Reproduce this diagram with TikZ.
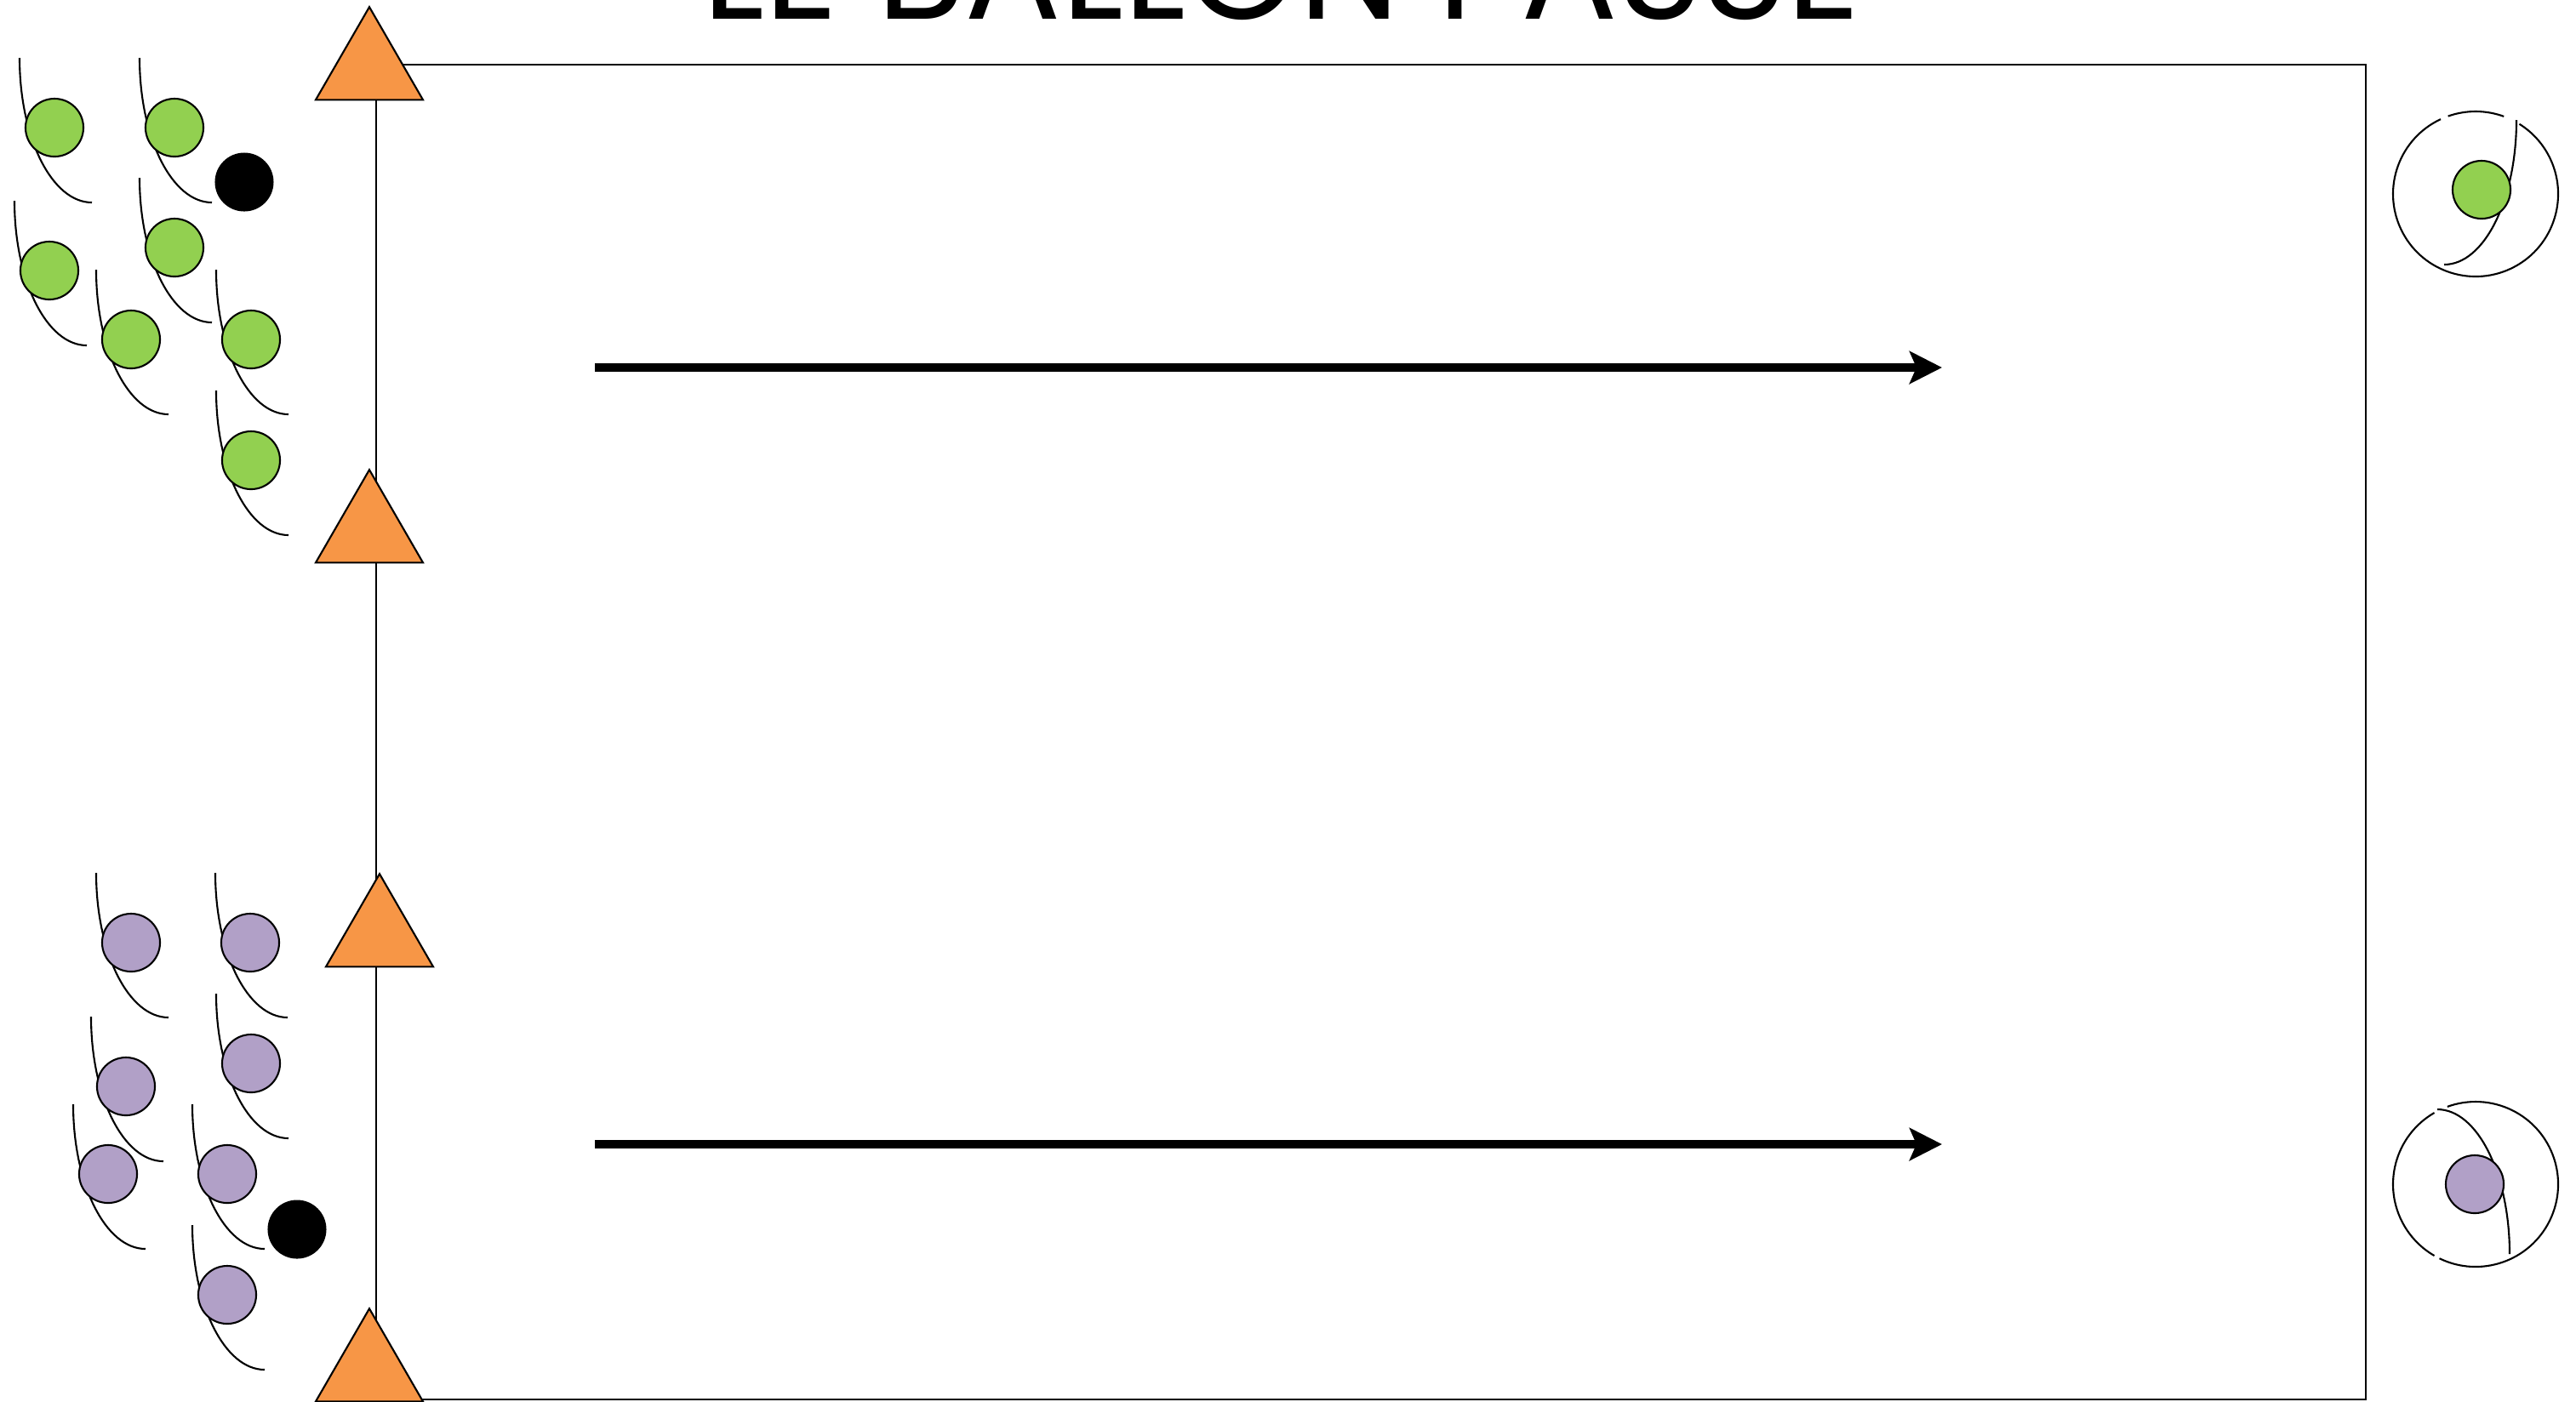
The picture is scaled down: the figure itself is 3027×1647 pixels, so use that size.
\documentclass[tikz,border=0pt]{standalone}
\usepackage{fontspec}
\newfontfamily\titlefont{Poppins}
\usepackage{tikz}
\usetikzlibrary{shapes.geometric,arrows.meta}
\definecolor{playgreen}{RGB}{146,208,80}
\definecolor{playpurple}{RGB}{177,160,199}
\definecolor{coneorange}{RGB}{247,150,70}
\tikzset{
    playerG/.style={circle, draw=black, fill=playgreen, line width=0.6pt, minimum size=0.68cm, inner sep=0pt},
    playerP/.style={circle, draw=black, fill=playpurple, line width=0.6pt, minimum size=0.68cm, inner sep=0pt},
    ball/.style={circle, fill=black, minimum size=0.69cm, inner sep=0pt},
    cone/.style={regular polygon, regular polygon sides=3, draw=black, fill=coneorange, line width=0.6pt, minimum size=1.455cm, inner sep=0pt},
    fieldline/.style={line width=0.6pt, black},
    turn/.style={line width=0.6pt, black},
    run/.style={line width=2.8pt, -{Stealth[length=0.38cm, width=0.38cm, inset=0.08cm]}},
}
\begin{document}
\begin{tikzpicture}[x=0.01cm, y=-0.01cm]
    \path[use as bounding box, clip] (0,0) rectangle (3027,1647);
    % Title
    \node[anchor=base, font=\titlefont\fontsize{48}{56}\selectfont] (title) at (1506,22) {LE BALLON PASSE};
    % Field
    \coordinate (fnw) at (442,76);
    \coordinate (fse) at (2780,1645);
    \draw[fieldline] (fnw) rectangle (fse);
    % Cones
    \foreach \n/\x/\y in {1/434/81, 2/434/625, 3/446/1100, 4/434/1611} {
        \node[cone] (c\n) at (\x,\y) {};
    }
    % Green group
    \foreach \n/\x/\y in {1/64/150, 2/205/150, 3/58/318, 4/205/291, 5/154/399, 6/295/399, 7/295/541} {
        \draw[turn] (\x,\y) ++(-41,-82) .. controls +(0,94) and +(-47,0) .. +(85,170);
        \node[playerG] (g\n) at (\x,\y) {};
    }
    \node[ball] (b1) at (287,214) {};
    % Purple group
    \foreach \n/\x/\y in {1/154/1108, 2/294/1108, 3/295/1250, 4/148/1277, 5/127/1380, 6/267/1380, 7/267/1522} {
        \draw[turn] (\x,\y) ++(-41,-82) .. controls +(0,94) and +(-47,0) .. +(85,170);
        \node[playerP] (p\n) at (\x,\y) {};
    }
    \node[ball] (b2) at (349,1445) {};
    % Runs
    \coordinate (r1s) at (699,432);
    \coordinate (r1e) at (2282,432);
    \coordinate (r2s) at (699,1345);
    \coordinate (r2e) at (2282,1345);
    \draw[run] (r1s) -- (r1e);
    \draw[run] (r2s) -- (r2e);
    % Receivers
    \coordinate (zg) at (2909,228);
    \draw[fieldline] (zg) ++(-70:97) arc[start angle=-70, end angle=-109.5, radius=97];
    \draw[fieldline] (zg) ++(-115:97) arc[start angle=-115, end angle=-418, radius=97];
    \draw[turn] (2916,223) ++(41,-82) .. controls +(0,94) and +(47,0) .. +(-85,170);
    \node[playerG] (gr) at (2916,223) {};
    \coordinate (zp) at (2909,1392);
    \draw[fieldline] (zp) ++(-120:97) arc[start angle=-120, end angle=-240, radius=97];
    \draw[fieldline] (zp) ++(-244:97) arc[start angle=-244, end angle=-470, radius=97];
    \draw[turn] (2908,1392) ++(-44,-88) .. controls +(47,0) and +(0,-94) .. +(85,170);
    \node[playerP] (pr) at (2908,1392) {};
\end{tikzpicture}
\end{document}
